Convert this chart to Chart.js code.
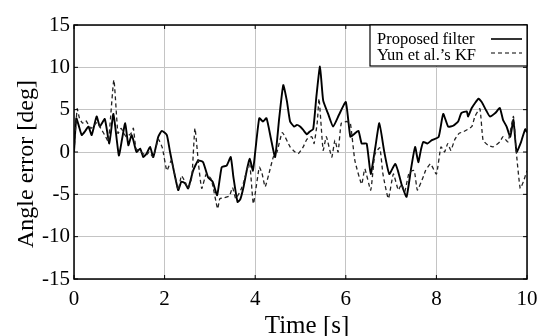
<!DOCTYPE html>
<html>
<head>
<meta charset="utf-8">
<script src="https://cdn.jsdelivr.net/npm/chart.js@4/dist/chart.umd.min.js"></script>
<style>
  html, body { margin: 0; padding: 0; background: #fff; }
  #angle-error-chart { display: block; }
</style>
</head>
<body>
<canvas id="angle-error-chart" width="552" height="336"></canvas>
<script>
// Time stamps [s] and angle errors [deg] for each filter
const time_proposed = [
    0.00, 0.05, 0.10, 0.17, 0.25, 0.32, 0.39, 0.50, 0.57, 0.68, 0.78, 0.87, 0.99,
    1.06, 1.13, 1.20, 1.27, 1.31, 1.38, 1.46, 1.53, 1.60, 1.68, 1.75, 1.86, 1.94, 2.05,
    2.12, 2.30, 2.37, 2.45, 2.52, 2.63, 2.74, 2.85, 2.96, 3.06, 3.16, 3.26,
    3.37, 3.46, 3.52, 3.61, 3.67, 3.74, 3.82, 3.88, 3.95, 4.00, 4.09, 4.17,
    4.25, 4.35, 4.44, 4.53, 4.62, 4.70, 4.77, 4.86, 4.92, 4.99, 5.06, 5.14, 5.20, 5.28, 5.35, 5.43, 5.50, 5.61, 5.72,
    5.85, 6.00, 6.10, 6.18, 6.28, 6.35, 6.46, 6.55, 6.65, 6.74, 6.85, 6.96, 7.09, 7.15, 7.23, 7.34,
    7.44, 7.53, 7.60, 7.66, 7.71, 7.80, 7.90, 8.05, 8.15, 8.26, 8.37, 8.48, 8.55, 8.67,
    8.70, 8.78, 8.93, 9.00, 9.10, 9.18, 9.30, 9.40, 9.47, 9.55, 9.63, 9.70, 9.77, 9.87, 9.96,
    10.00
];
const proposed_filter = [
    0.0, 4.0, 3.2, 2.0, 2.5, 3.0, 2.0, 4.2, 3.0, 3.9, 1.0, 4.5, -0.4,
    1.5, 3.4, 0.8, 2.0, 1.4, 0.0, 0.4, -0.6, -0.2, 0.6, -0.6, 1.8, 2.5, 2.0,
    0.0, -4.5, -3.5, -3.7, -4.3, -2.2, -1.0, -1.2, -3.0, -3.5, -5.1, -1.8,
    -1.6, -0.6, -3.0, -5.9, -5.6, -4.2, -2.0, -0.8, -2.2, 0.0, 4.0, 3.6,
    4.0, 1.5, -0.6, 4.0, 7.9, 6.0, 3.6, 3.0, 3.2, 3.0, 2.6, 2.1, 2.4, 2.7, 6.5, 10.1, 6.1, 4.5, 3.0,
    4.4, 5.9, 1.8, 2.1, 2.5, 1.0, 1.0, -2.6, 0.5, 3.4, 0.0, -2.6, -1.4, -2.2, -3.8, -5.3,
    -2.0, 0.6, -1.2, 0.3, 1.2, 1.0, 1.4, 1.8, 4.5, 3.0, 3.1, 3.6, 4.6, 4.8,
    4.2, 5.2, 6.3, 5.9, 4.9, 4.2, 4.6, 5.2, 3.8, 3.0, 1.8, 3.8, 0.0, 1.2, 2.7,
    2.3
];

const time_yun = [
    0.00, 0.07, 0.12, 0.19, 0.26, 0.37, 0.44, 0.51, 0.59, 0.70, 0.76, 0.88,
    0.97, 1.04, 1.15, 1.26, 1.31, 1.37, 1.48, 1.59, 1.66, 1.75, 1.86, 1.95,
    2.05, 2.15, 2.30, 2.37, 2.45, 2.52, 2.60, 2.67, 2.75, 2.82, 2.92, 3.03,
    3.17, 3.22, 3.32, 3.43, 3.50, 3.57, 3.68, 3.75, 3.82, 3.88, 3.96, 4.09,
    4.15, 4.22, 4.33, 4.40, 4.48, 4.60, 4.77, 4.88, 4.95, 5.06, 5.14, 5.25,
    5.30, 5.37, 5.41, 5.50, 5.57, 5.69, 5.76, 5.83, 5.90, 6.02, 6.10, 6.20,
    6.35, 6.42, 6.55, 6.64, 6.75, 6.82, 6.94, 7.05, 7.16, 7.23, 7.30, 7.40,
    7.51, 7.58, 7.72, 7.76, 7.87, 8.00, 8.10, 8.18, 8.25, 8.32, 8.40, 8.50,
    8.60, 8.78, 8.85, 8.96, 9.03, 9.14, 9.25, 9.40, 9.47, 9.58, 9.70, 9.76,
    9.85, 9.92, 10.00
];
const yun_kf = [
    0.0, 5.1, 4.0, 3.4, 3.7, 2.8, 3.1, 3.5, 2.8, 1.8, 1.2, 8.5,
    2.2, 2.8, 1.8, 2.2, 2.8, 0.4, 0.0, -0.4, 0.0, -0.6, 1.5, 0.5,
    -2.2, -1.0, -4.5, -2.8, -3.5, -4.3, -3.0, 2.8, -1.5, -4.3, -2.6, -3.2,
    -6.7, -5.5, -5.4, -5.2, -4.2, -5.5, -4.5, -3.5, -2.0, -1.4, -6.1, -1.8,
    -2.5, -4.1, -2.0, -0.6, 0.0, 2.3, 0.6, 0.0, -0.2, 0.6, 1.5, 1.8,
    1.0, 3.5, 6.3, 0.2, 1.8, -0.6, 1.4, 0.0, 3.4, 3.6, 3.4, -1.0,
    -3.8, -2.0, -4.5, -0.3, 0.5, -2.6, -5.5, -2.6, -4.5, -3.8, -4.7, -2.4,
    -2.2, -4.5, -2.8, -2.2, -1.4, -2.6, 0.6, 0.0, 1.0, 0.2, 1.4, 2.2,
    2.4, 3.0, 4.2, 5.1, 1.4, 0.8, 0.6, 1.2, 1.8, 1.2, 4.2, 0.2,
    -4.3, -3.5, -2.2
];

const x_ticks = [0, 2, 4, 6, 8, 10];
const y_ticks = [-15, -10, -5, 0, 5, 10, 15];

const SERIF = "'Liberation Serif', 'Times New Roman', serif";

// Frame, inward ticks, axis titles and legend box drawn on top of the plot
const framePlugin = {
    id: "frame",
    afterDraw(chart) {
        const ctx = chart.ctx;
        const a = chart.chartArea;
        const xs = chart.scales.x;
        const ys = chart.scales.y;
        ctx.save();
        ctx.strokeStyle = "#000";
        ctx.lineWidth = 1.5;
        ctx.strokeRect(a.left, a.top, a.right - a.left, a.bottom - a.top);

        ctx.lineWidth = 1;
        x_ticks.forEach(t => {
            const px = xs.getPixelForValue(t);
            ctx.beginPath();
            ctx.moveTo(px, a.bottom); ctx.lineTo(px, a.bottom - 4);
            ctx.moveTo(px, a.top); ctx.lineTo(px, a.top + 4);
            ctx.stroke();
        });
        y_ticks.forEach(t => {
            const py = ys.getPixelForValue(t);
            ctx.beginPath();
            ctx.moveTo(a.left, py); ctx.lineTo(a.left + 4, py);
            ctx.moveTo(a.right, py); ctx.lineTo(a.right - 4, py);
            ctx.stroke();
        });

        // axis titles
        ctx.fillStyle = "#000";
        ctx.textAlign = "center";
        ctx.textBaseline = "alphabetic";
        ctx.font = "25px " + SERIF;
        ctx.fillText("Time [s]", 307, 333);
        ctx.save();
        ctx.translate(33, 164);
        ctx.rotate(-Math.PI / 2);
        ctx.font = "24px " + SERIF;
        ctx.fillText("Angle error [deg]", 0, 0);
        ctx.restore();

        // legend
        const lx = 370, ly = a.top, lw = a.right - lx, lh = 41;
        ctx.fillStyle = "#fff";
        ctx.fillRect(lx, ly, lw, lh);
        ctx.lineWidth = 1.2;
        ctx.strokeRect(lx, ly, lw, lh);
        ctx.fillStyle = "#000";
        ctx.font = "16.5px " + SERIF;
        ctx.textAlign = "left";
        ctx.fillText("Proposed filter", lx + 7, ly + 19);
        ctx.fillText("Yun et al.\u2019s KF", lx + 7, ly + 35);

        ctx.beginPath();
        ctx.lineWidth = 1.6;
        ctx.moveTo(lx + 121, ly + 14); ctx.lineTo(lx + 152, ly + 14);
        ctx.stroke();
        ctx.beginPath();
        ctx.lineWidth = 1.2;
        ctx.setLineDash([4, 3]);
        ctx.moveTo(lx + 121, ly + 28); ctx.lineTo(lx + 152, ly + 28);
        ctx.stroke();
        ctx.restore();
    }
};

window.addEventListener("load", () => {
    const toPoints = (ts, vs) => ts.map((t, i) => ({ x: t, y: vs[i] }));

    new Chart(document.getElementById("angle-error-chart"), {
        type: "line",
        data: {
            datasets: [
                {
                    label: "Yun et al.'s KF",
                    data: toPoints(time_yun, yun_kf),
                    borderColor: "#222",
                    borderWidth: 1.3,
                    borderDash: [4, 3],
                    pointRadius: 0,
                    tension: 0.15,
                    fill: false
                },
                {
                    label: "Proposed filter",
                    data: toPoints(time_proposed, proposed_filter),
                    borderColor: "#000",
                    borderWidth: 1.9,
                    pointRadius: 0,
                    tension: 0.15,
                    fill: false
                }
            ]
        },
        options: {
            responsive: false,
            animation: false,
            layout: { padding: { top: 25, right: 25, left: 0, bottom: 0 } },
            plugins: {
                legend: { display: false },
                tooltip: { enabled: false }
            },
            scales: {
                x: {
                    type: "linear",
                    min: 0,
                    max: 10,
                    afterBuildTicks: s => { s.ticks = x_ticks.map(v => ({ value: v })); },
                    afterFit: s => { s.height = 57; },
                    grid: { color: "#c4c4c4", lineWidth: 1, drawTicks: false },
                    border: { display: false },
                    ticks: { color: "#000", font: { family: SERIF, size: 21 }, padding: 8, maxRotation: 0 }
                },
                y: {
                    min: -15,
                    max: 15,
                    afterBuildTicks: s => { s.ticks = y_ticks.map(v => ({ value: v })); },
                    afterFit: s => { s.width = 74; },
                    grid: { color: "#c4c4c4", lineWidth: 1, drawTicks: false },
                    border: { display: false },
                    ticks: { color: "#000", font: { family: SERIF, size: 21 }, padding: 4 }
                }
            }
        },
        plugins: [framePlugin]
    });
});
</script>
</body>
</html>
